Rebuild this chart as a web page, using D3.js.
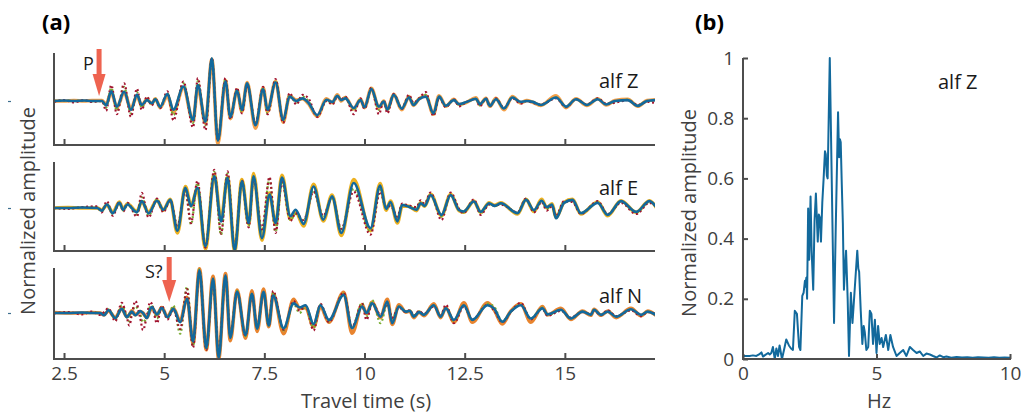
<!DOCTYPE html>
<html><head><meta charset="utf-8">
<script src="https://cdn.jsdelivr.net/npm/d3@7"></script>
<style>
html,body{margin:0;padding:0;background:#fff;}
svg{display:block;font-family:"Open Sans",sans-serif;}
</style></head><body>
<svg id="chart" width="1021" height="416"></svg>
<script>
// ---------- data: panel (a) seismograms (time in s, normalized amplitude) ----------
const xTicks = [2.5, 5, 7.5, 10, 12.5, 15];
const xTickLabels = ["2.5", "5", "7.5", "10", "12.5", "15"];
const componentNames = ["alf Z", "alf E", "alf N"];

const zTime = [2.25,2.5,2.75,3.0,3.2,3.45,3.55,3.68,3.82,4.0,4.17,4.32,4.44,4.57,4.69,4.78,4.9,5.08,5.23,5.48,5.72,5.84,6.03,6.19,6.34,6.53,6.65,6.82,6.94,7.07,7.28,7.47,7.58,7.78,7.97,8.13,8.3,8.45,8.6,8.82,9.05,9.2,9.32,9.42,9.52,9.73,9.9,10.0,10.17,10.36,10.48,10.57,10.73,10.93,11.11,11.22,11.36,11.53,11.72,11.86,12.03,12.23,12.36,12.55,12.78,12.88,13.03,13.13,13.28,13.48,13.69,13.9,14.05,14.2,14.4,14.78,15.03,15.28,15.55,15.82,16.03,16.25,16.57,16.82,17.05,17.25];
const zBlue = [0.0,0.01,0.0,0.01,0.0,0.0,-0.1,0.22,-0.13,0.21,-0.2,0.14,-0.09,0.02,-0.05,0.04,-0.13,0.16,-0.2,0.33,-0.43,0.36,-0.47,0.97,-0.9,0.44,-0.36,0.23,-0.2,0.4,-0.55,0.27,-0.2,0.42,-0.43,0.1,0.0,0.06,-0.04,-0.32,0.03,-0.02,0.12,0.02,0.06,-0.16,0.02,-0.14,0.27,-0.13,-0.01,-0.19,0.14,-0.17,0.08,-0.09,0.04,0.1,-0.28,0.1,-0.11,0.02,-0.07,-0.02,0.05,-0.07,0.05,-0.11,0.04,-0.17,0.08,-0.02,0.0,-0.02,-0.09,0.08,-0.13,0.04,-0.09,0.04,-0.08,0.0,0.02,-0.11,0.0,0.02];
const zOrange = [0.0,0.0,0.01,0.0,0.01,0.01,-0.08,0.2,-0.15,0.2,-0.18,0.12,-0.1,0.04,-0.06,0.05,-0.15,0.12,-0.25,0.3,-0.45,0.32,-0.5,0.95,-0.97,0.47,-0.4,0.25,-0.24,0.42,-0.62,0.3,-0.24,0.45,-0.48,0.12,0.02,0.05,-0.06,-0.35,0.05,-0.04,0.14,0.0,0.08,-0.18,0.04,-0.15,0.29,-0.16,0.0,-0.2,0.15,-0.2,0.1,-0.1,0.05,0.12,-0.3,0.12,-0.12,0.04,-0.08,-0.03,0.07,-0.08,0.06,-0.12,0.06,-0.2,0.1,-0.04,0.01,-0.03,-0.1,0.12,-0.15,0.05,-0.1,0.05,-0.09,0.01,0.04,-0.12,0.01,0.03];
const zRed = [-0.02,0.02,-0.03,0.02,-0.02,0.0,-0.22,0.36,-0.3,0.4,-0.36,0.28,-0.2,0.1,-0.1,0.06,-0.16,0.22,-0.44,0.44,-0.6,0.52,-0.66,0.98,-0.9,0.52,-0.42,0.3,-0.28,0.36,-0.5,0.32,-0.3,0.5,-0.5,0.18,-0.08,0.14,0.06,-0.36,0.0,-0.08,0.1,0.04,0.1,-0.3,0.06,-0.18,0.3,-0.3,0.02,-0.28,0.16,-0.18,0.14,-0.04,0.06,0.2,-0.34,0.08,-0.14,0.04,-0.12,-0.02,0.04,-0.12,0.06,-0.12,0.06,-0.16,0.06,-0.06,0.0,-0.04,-0.08,0.06,-0.14,0.04,-0.08,0.06,-0.06,-0.04,0.02,-0.09,-0.02,-0.04];
const zGreen = [0.0,0.01,0.0,0.01,-0.01,0.0,-0.15,0.3,-0.22,0.32,-0.28,0.2,-0.15,0.06,-0.08,0.05,-0.14,0.18,-0.32,0.4,-0.5,0.45,-0.55,0.96,-0.88,0.5,-0.38,0.26,-0.25,0.38,-0.52,0.3,-0.28,0.46,-0.46,0.14,-0.04,0.1,0.0,-0.34,0.02,-0.05,0.12,0.03,0.08,-0.22,0.04,-0.16,0.28,-0.2,0.0,-0.22,0.14,-0.17,0.1,-0.06,0.04,0.14,-0.3,0.1,-0.12,0.03,-0.09,-0.02,0.05,-0.1,0.05,-0.11,0.05,-0.17,0.08,-0.03,0.0,-0.03,-0.09,0.08,-0.13,0.04,-0.09,0.05,-0.07,-0.02,0.03,-0.1,0.0,0.01];

const eTime = [2.25,2.6,2.95,3.33,3.44,3.57,3.72,3.88,3.98,4.08,4.32,4.44,4.61,4.82,4.98,5.15,5.33,5.53,5.67,5.83,6.03,6.25,6.42,6.58,6.76,6.94,7.11,7.23,7.44,7.63,7.78,7.94,8.15,8.28,8.48,8.73,8.97,9.19,9.42,9.73,10.15,10.39,10.54,10.65,10.82,10.94,11.1,11.3,11.4,11.5,11.65,11.92,12.15,12.36,12.47,12.73,12.9,13.11,13.25,13.4,13.82,14.03,14.23,14.42,14.55,14.68,14.78,14.98,15.19,15.4,15.82,16.07,16.4,16.78,17.11,17.32];
const eBlue = [0,0.0,0.01,0.0,-0.06,0.08,-0.12,0.12,-0.04,0.08,-0.1,0.16,-0.12,0.17,-0.04,0.19,-0.53,0.47,0.04,0.47,-0.89,0.74,-0.31,0.7,-0.99,0.62,-0.35,0.74,-0.7,0.31,-0.35,0.71,-0.19,-0.04,-0.37,0.5,-0.27,0.27,-0.58,0.58,-0.47,0.52,-0.02,0.14,-0.31,0.07,0.03,-0.04,0.11,0.05,0.3,-0.16,0.3,-0.05,-0.08,0.15,-0.09,0.11,0.05,0.11,-0.12,0.19,-0.05,0.17,0.02,0.08,-0.24,0.12,0.19,-0.12,0.12,-0.16,0.16,-0.09,0.16,-0.03];
const eOrange = [0,0.01,0.0,0.0,-0.05,0.07,-0.1,0.14,-0.03,0.1,-0.08,0.15,-0.1,0.18,-0.05,0.2,-0.58,0.5,0.05,0.45,-0.95,0.78,-0.28,0.72,-1.0,0.66,-0.38,0.8,-0.75,0.35,-0.38,0.76,-0.26,-0.08,-0.42,0.55,-0.3,0.3,-0.64,0.66,-0.53,0.57,-0.05,0.16,-0.35,0.05,0.04,-0.06,0.12,0.04,0.32,-0.18,0.32,-0.06,-0.1,0.16,-0.1,0.12,0.06,0.12,-0.14,0.2,-0.08,0.2,0.0,0.1,-0.22,0.13,0.2,-0.14,0.14,-0.18,0.17,-0.1,0.17,-0.04];
const eRed = [0,-0.02,0.02,0.04,-0.1,0.16,-0.18,0.14,-0.08,0.12,-0.2,0.35,-0.22,0.22,-0.1,0.18,-0.4,0.4,-0.35,0.63,-0.92,0.89,-0.6,0.85,-0.95,0.64,-0.45,0.68,-0.5,0.72,-0.58,0.6,-0.3,-0.12,-0.28,0.38,-0.18,0.24,-0.48,0.38,-0.62,0.38,0.02,0.05,-0.2,0.1,0.06,0.02,0.18,0.1,0.36,-0.28,0.36,-0.02,-0.12,0.2,-0.16,0.08,0.06,0.08,-0.1,0.22,-0.1,0.14,-0.06,0.04,-0.18,0.16,0.14,-0.14,0.16,-0.14,0.12,-0.14,0.12,0.0];
const eGreen = [0,0.0,0.01,0.02,-0.08,0.1,-0.14,0.12,-0.06,0.1,-0.15,0.25,-0.18,0.2,-0.07,0.18,-0.45,0.42,-0.38,0.58,-0.9,0.84,-0.62,0.8,-0.97,0.63,-0.42,0.7,-0.55,0.68,-0.55,0.62,-0.28,-0.14,-0.3,0.4,-0.22,0.25,-0.5,0.45,-0.55,0.42,0.0,0.1,-0.25,0.08,0.04,-0.02,0.14,0.06,0.32,-0.2,0.3,-0.04,-0.1,0.16,-0.12,0.1,0.05,0.1,-0.11,0.2,-0.07,0.16,-0.02,0.06,-0.2,0.14,0.16,-0.12,0.13,-0.15,0.14,-0.11,0.14,-0.02];

const nTime = [2.25,2.6,2.95,3.2,3.4,3.5,3.61,3.78,3.94,4.07,4.13,4.19,4.28,4.4,4.47,4.57,4.65,4.69,4.82,4.94,5.08,5.23,5.4,5.57,5.72,5.88,6.05,6.22,6.36,6.53,6.65,6.82,7.03,7.19,7.32,7.48,7.61,7.72,7.98,8.23,8.38,8.53,8.73,8.9,9.11,9.48,9.69,9.94,10.05,10.19,10.4,10.57,10.69,10.86,11.03,11.13,11.23,11.36,11.48,11.73,11.9,12.03,12.23,12.48,12.69,13.07,13.23,13.44,13.65,13.9,14.15,14.44,14.57,14.9,15.15,15.44,15.65,15.73,15.9,16.07,16.28,16.65,16.9,17.07,17.27];
const nBlue = [0,0.0,0.01,0.0,0.0,-0.05,0.06,-0.11,0.09,-0.09,-0.03,0.03,-0.05,0.04,0.0,-0.11,0.08,0.13,-0.03,0.11,-0.09,0.09,-0.2,0.31,-0.62,0.93,-0.76,0.75,-0.98,0.82,-0.54,0.46,-0.48,0.42,-0.34,0.46,-0.27,0.38,-0.33,0.21,0.12,0.17,-0.24,0.17,-0.15,0.39,-0.33,0.14,0.0,0.21,-0.08,0.25,-0.22,0.14,0.03,0.05,-0.08,0.02,-0.04,0.17,-0.08,0.1,-0.15,0.17,-0.15,0.17,0.1,-0.19,0.03,0.17,-0.12,0.1,-0.03,0.07,-0.12,0.03,-0.04,0.07,-0.04,0.03,-0.08,0.08,-0.04,0.03,-0.04];
const nOrange = [0.01,0.0,0.0,0.01,0.0,-0.04,0.05,-0.1,0.1,-0.08,-0.04,0.05,-0.04,0.03,0.0,-0.1,0.06,0.12,-0.04,0.12,-0.08,0.1,-0.18,0.34,-0.66,0.96,-0.8,0.8,-1.0,0.86,-0.6,0.5,-0.55,0.48,-0.4,0.52,-0.3,0.42,-0.45,0.3,0.1,0.12,-0.3,0.14,-0.2,0.45,-0.44,0.18,-0.02,0.24,-0.1,0.3,-0.25,0.18,0.02,0.04,-0.1,0.02,-0.06,0.2,-0.1,0.12,-0.2,0.22,-0.2,0.22,0.08,-0.24,0.04,0.2,-0.2,0.14,-0.04,0.1,-0.14,0.04,-0.05,0.08,-0.05,0.04,-0.1,0.1,-0.06,0.04,-0.05];
const nRed = [-0.01,0.02,-0.03,0.03,-0.04,0.02,0.1,-0.18,0.22,-0.1,-0.27,-0.05,0.26,-0.1,-0.37,-0.05,0.24,0.2,-0.22,0.16,-0.14,0.08,-0.35,0.52,-0.75,0.92,-0.8,0.7,-0.9,0.78,-0.5,0.46,-0.5,0.4,-0.3,0.44,-0.28,0.48,-0.36,0.26,0.05,0.16,-0.38,0.2,-0.2,0.44,-0.3,0.2,-0.15,0.22,-0.04,0.2,-0.1,0.12,0.02,0.06,-0.06,0.04,-0.02,0.14,-0.06,0.18,-0.22,0.14,-0.14,0.18,0.06,-0.2,0.02,0.22,-0.14,0.1,-0.06,0.05,-0.1,0.02,-0.02,0.06,-0.05,0.06,-0.07,0.06,-0.07,0.02,-0.02];
const nGreen = [0,0.0,0.0,0.01,0.0,-0.02,0.08,-0.14,0.16,-0.08,-0.18,0.0,0.14,-0.02,-0.2,-0.08,0.14,0.16,-0.12,0.14,-0.12,0.16,-0.45,0.57,-0.72,0.95,-0.78,0.72,-0.92,0.8,-0.52,0.48,-0.5,0.42,-0.32,0.45,-0.27,0.45,-0.38,0.2,0.0,0.14,-0.32,0.18,-0.18,0.42,-0.32,0.22,-0.08,0.28,-0.22,0.2,-0.12,0.14,0.03,0.05,-0.07,0.03,-0.03,0.16,-0.07,0.1,-0.17,0.16,-0.15,0.2,0.14,-0.18,0.03,0.18,-0.12,0.12,-0.04,0.06,-0.11,0.03,-0.03,0.07,-0.04,0.04,-0.08,0.07,-0.05,0.03,-0.03];

// ---------- data: panel (b) amplitude spectrum ----------
const specTicksX = [0, 5, 10];
const specTicksY = [0, 0.2, 0.4, 0.6, 0.8, 1];
const specTickLabelsY = ["0", "0.2", "0.4", "0.6", "0.8", "1"];
const specHz = [0,0.12,0.25,0.37,0.5,0.6,0.69,0.75,0.81,0.94,1.0,1.06,1.12,1.19,1.25,1.31,1.37,1.46,1.56,1.62,1.72,1.8,1.87,1.94,2.02,2.1,2.15,2.22,2.27,2.32,2.35,2.37,2.4,2.44,2.48,2.53,2.57,2.63,2.68,2.73,2.8,2.84,2.88,2.92,2.97,3.02,3.07,3.1,3.14,3.17,3.25,3.41,3.47,3.56,3.6,3.63,3.66,3.7,3.74,3.78,3.82,3.86,3.92,3.97,4.04,4.1,4.19,4.28,4.32,4.35,4.41,4.47,4.52,4.56,4.62,4.69,4.75,4.81,4.87,4.94,5.0,5.06,5.12,5.19,5.25,5.35,5.44,5.52,5.62,5.75,5.87,6.0,6.12,6.25,6.37,6.5,6.62,6.75,6.87,7.0,7.12,7.25,7.37,7.5,7.62,7.8,8.0,8.2,8.4,8.6,8.8,9.0,9.2,9.4,9.6,9.8,10.0];
const specAmp = [0.01,0.01,0.01,0.012,0.01,0.015,0.022,0.008,0.012,0.02,0.015,0.02,0.04,0.0,0.035,0.01,0.045,0.0,0.04,0.065,0.045,0.035,0.03,0.16,0.15,0.04,0.03,0.21,0.22,0.26,0.24,0.27,0.2,0.5,0.33,0.54,0.36,0.23,0.46,0.55,0.39,0.48,0.47,0.39,0.52,0.6,0.69,0.68,0.61,0.6,1.0,0.12,0.42,0.82,0.67,0.73,0.72,0.58,0.45,0.23,0.3,0.36,0.2,0.01,0.22,0.12,0.24,0.36,0.3,0.29,0.16,0.05,0.11,0.09,0.03,0.04,0.16,0.15,0.05,0.13,0.02,0.11,0.05,0.07,0.04,0.08,0.03,0.08,0.04,0.01,0.02,0.03,0.01,0.04,0.03,0.02,0.025,0.01,0.018,0.015,0.01,0.005,0.012,0.006,0.008,0.004,0.007,0.005,0.006,0.004,0.006,0.005,0.004,0.006,0.004,0.005,0.004];

// ---------- drawing ----------
const svg = d3.select("#chart");
const axisColor = "#4d4d4d", tickTextColor = "#404040", annoColor = "#1a1a1a";
const blueColor = "#12699c", redColor = "#a2142f", greenColor = "#77ac30", arrowColor = "#ee6350";
const FONT = "'Open Sans', sans-serif";

const aLeft = 54, aRight = 655;
const x = d3.scaleLinear().domain([2.25, 17.25]).range([aLeft, aRight]);

const layout = [
  { top: 53,  bottom: 145, zero: 101, orange: "#f4a048", labelY: 88 },
  { top: 162, bottom: 251, zero: 208, orange: "#edb120", labelY: 195 },
  { top: 268, bottom: 359, zero: 313, orange: "#e8842e", labelY: 303 }
];
const series = [
  { t: zTime, b: zBlue, o: zOrange, r: zRed, g: zGreen },
  { t: eTime, b: eBlue, o: eOrange, r: eRed, g: eGreen },
  { t: nTime, b: nBlue, o: nOrange, r: nRed, g: nGreen }
];

const defs = svg.append("defs");

layout.forEach((L, i) => {
  const S = series[i];
  const unit = L.bottom - L.zero;
  const y = d3.scaleLinear().domain([-1, (L.bottom - L.top) / unit - 1]).range([L.bottom, L.top]);
  defs.append("clipPath").attr("id", "clip" + i)
    .append("rect").attr("x", aLeft).attr("y", L.top - 4).attr("width", aRight - aLeft).attr("height", L.bottom - L.top + 4);
  const g = svg.append("g").attr("clip-path", `url(#clip${i})`);
  const mk = vals => d3.line()
      .x((d, k) => x(S.t[k]))
      .y(d => y(d))
      .curve(d3.curveMonotoneX)(vals.slice(0, S.t.length));
  g.append("path").attr("d", mk(S.o)).attr("fill", "none").attr("stroke", L.orange).attr("stroke-width", 3.6).attr("stroke-linejoin", "round");
  g.append("path").attr("d", mk(S.g)).attr("fill", "none").attr("stroke", greenColor).attr("stroke-width", 2.2).attr("stroke-dasharray", "2,2.6");
  g.append("path").attr("d", mk(S.r)).attr("fill", "none").attr("stroke", redColor).attr("stroke-width", 2.2).attr("stroke-dasharray", "2,2.6");
  g.append("path").attr("d", mk(S.b)).attr("fill", "none").attr("stroke", blueColor).attr("stroke-width", 2.6).attr("stroke-linejoin", "round");

  // axes
  const xa = d3.axisBottom(x).tickValues(xTicks).tickSizeInner(-6).tickSizeOuter(0).tickPadding(8)
    .tickFormat((d, k) => i === 2 ? xTickLabels[k] : "");
  const ga = svg.append("g").attr("transform", `translate(0,${L.bottom})`).call(xa)
    .attr("font-family", FONT).attr("font-size", 19);
  ga.select(".domain").attr("stroke", axisColor).attr("stroke-width", 2).attr("d", `M${aLeft - 1},0H${aRight}`);
  ga.selectAll(".tick line").attr("stroke", axisColor).attr("stroke-width", 2);
  ga.selectAll(".tick text").attr("fill", tickTextColor);
  svg.append("line").attr("x1", aLeft).attr("x2", aLeft).attr("y1", L.top).attr("y2", L.bottom + 1)
    .attr("stroke", axisColor).attr("stroke-width", 2);
  // tiny leftover tick mark at far left
  svg.append("line").attr("x1", 8).attr("x2", 11).attr("y1", L.zero + 0.5).attr("y2", L.zero + 0.5)
    .attr("stroke", "#3d6f8f").attr("stroke-width", 1.2);
  // component label
  svg.append("text").attr("x", 599).attr("y", L.labelY).text(componentNames[i])
    .attr("font-family", FONT).attr("font-size", 20).attr("fill", annoColor);
});

// arrows
function arrow(cx, y0, yHeadStart, yTip, half) {
  svg.append("rect").attr("x", cx - 2.5).attr("y", y0).attr("width", 5).attr("height", yHeadStart - y0 + 1).attr("fill", arrowColor);
  svg.append("path").attr("d", `M${cx - half},${yHeadStart}L${cx + half},${yHeadStart}L${cx},${yTip}Z`).attr("fill", arrowColor);
}
arrow(x(3.375), 49, 74, 96, 6.5);
svg.append("text").attr("x", 83).attr("y", 70).text("P").attr("font-family", FONT).attr("font-size", 18).attr("fill", annoColor);
arrow(x(5.125), 257, 280, 302, 7);
svg.append("text").attr("x", 145).attr("y", 278).text("S?").attr("font-family", FONT).attr("font-size", 18).attr("fill", annoColor);

// panel (a) labels
svg.append("text").attr("x", 42).attr("y", 30).text("(a)").attr("font-family", FONT).attr("font-weight", "bold").attr("font-size", 22).attr("fill", "#000");
svg.append("text").attr("transform", "translate(35,211) rotate(-90)").attr("text-anchor", "middle")
  .text("Normalized amplitude").attr("font-family", FONT).attr("font-size", 20).attr("fill", tickTextColor);
svg.append("text").attr("x", 366).attr("y", 408).attr("text-anchor", "middle")
  .text("Travel time (s)").attr("font-family", FONT).attr("font-size", 20).attr("fill", tickTextColor);

// ---------- panel (b) ----------
const bx = d3.scaleLinear().domain([0, 10]).range([743, 1010]);
const by = d3.scaleLinear().domain([0, 1]).range([359, 58]);
svg.append("path")
  .attr("d", d3.line().x((d, k) => bx(specHz[k])).y(d => by(d))(specAmp))
  .attr("fill", "none").attr("stroke", blueColor).attr("stroke-width", 2).attr("stroke-linejoin", "round");

const bxa = d3.axisBottom(bx).tickValues(specTicksX).tickSizeInner(-5).tickSizeOuter(0).tickPadding(8);
const gbx = svg.append("g").attr("transform", "translate(0,359)").call(bxa).attr("font-family", FONT).attr("font-size", 19);
gbx.select(".domain").attr("stroke", axisColor).attr("stroke-width", 2).attr("d", "M742,0H1011");
gbx.selectAll(".tick line").attr("stroke", axisColor).attr("stroke-width", 2);
gbx.selectAll(".tick text").attr("fill", tickTextColor);

const bya = d3.axisLeft(by).tickValues(specTicksY).tickFormat((d, k) => specTickLabelsY[k]).tickSizeInner(-5).tickSizeOuter(0).tickPadding(9);
const gby = svg.append("g").attr("transform", "translate(743,0)").call(bya).attr("font-family", FONT).attr("font-size", 19);
gby.select(".domain").attr("stroke", axisColor).attr("stroke-width", 2).attr("d", "M0,58V360");
gby.selectAll(".tick line").attr("stroke", axisColor).attr("stroke-width", 2);
gby.selectAll(".tick text").attr("fill", tickTextColor);

svg.append("text").attr("x", 695).attr("y", 30).text("(b)").attr("font-family", FONT).attr("font-weight", "bold").attr("font-size", 22).attr("fill", "#000");
svg.append("text").attr("transform", "translate(696,213) rotate(-90)").attr("text-anchor", "middle")
  .text("Normalized amplitude").attr("font-family", FONT).attr("font-size", 20).attr("fill", tickTextColor);
svg.append("text").attr("x", 879).attr("y", 408).attr("text-anchor", "middle")
  .text("Hz").attr("font-family", FONT).attr("font-size", 20).attr("fill", tickTextColor);
svg.append("text").attr("x", 938).attr("y", 89).text("alf Z")
  .attr("font-family", FONT).attr("font-size", 20).attr("fill", annoColor);
</script>
</body></html>
